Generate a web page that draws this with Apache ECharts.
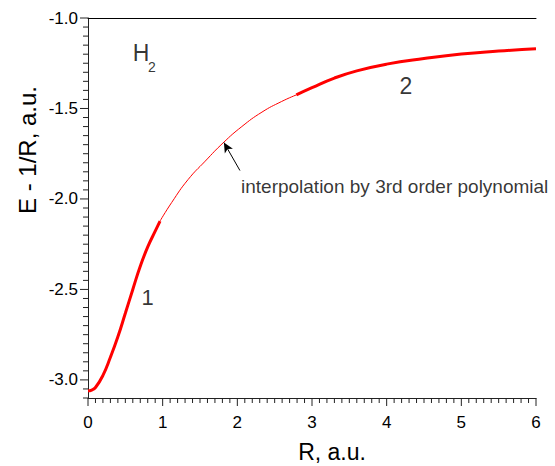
<!DOCTYPE html>
<html>
<head>
<meta charset="utf-8">
<script src="https://cdn.jsdelivr.net/npm/echarts@6/dist/echarts.min.js"></script>
<style>html,body{margin:0;padding:0;background:#fff}#c{width:555px;height:466px}</style>
</head>
<body>
<div id="c"></div>
<script>
// Segment 1 (thick): small-R expansion
const seg1X = [0, 0.05, 0.1, 0.2, 0.3, 0.4, 0.5, 0.6, 0.7, 0.8, 0.9, 0.965];
const seg1Y = [-3.060, -3.056, -3.042, -2.975, -2.875, -2.762, -2.632, -2.500, -2.372, -2.265, -2.178, -2.122];
// Interpolation (thin)
const midX = [0.965, 1.12, 1.34, 1.57, 1.81, 2.06, 2.33, 2.59, 2.79];
const midY = [-2.122, -2.020, -1.893, -1.791, -1.690, -1.600, -1.520, -1.462, -1.425];
// Segment 2 (thick): large-R expansion
const seg2X = [2.79, 3.0, 3.3, 3.6, 4.0, 4.5, 5.0, 5.5, 6.0];
const seg2Y = [-1.425, -1.385, -1.332, -1.292, -1.255, -1.224, -1.199, -1.183, -1.170];

const xTicks = [0, 1, 2, 3, 4, 5, 6];
const yTicks = [-3.0, -2.5, -2.0, -1.5, -1.0];
const yRange = [-3.1, -1.0];
const xMinorStep = 0.1;
const yMinorStep = 0.05;

const xName = 'R, a.u.';
const yName = 'E - 1/R, a.u.';
const annText = 'interpolation by 3rd order polynomial';
// annotation anchors in data coordinates
const annAnchor = [2.049, -1.931];
const arrowFrom = [2.035, -1.843];
const arrowTo = [1.82, -1.688];
const labelH = [0.710, -1.196];
const labelHsub = [0.857, -1.270];
const label1 = [0.797, -2.542];
const label2 = [4.259, -1.378];

const zip = (a, b) => a.map((v, i) => [v, b[i]]);

// tick positions (axis furniture)
const xAllTicks = [];
for (let i = 0; i <= Math.round((xTicks[xTicks.length - 1] - xTicks[0]) / xMinorStep); i++) {
  xAllTicks.push(+(xTicks[0] + i * xMinorStep).toFixed(3));
}
const yAllTicks = [];
for (let i = 0; i <= Math.round((yRange[1] - yRange[0]) / yMinorStep); i++) {
  yAllTicks.push(+(yRange[0] + i * yMinorStep).toFixed(3));
}
const tickItems = xAllTicks.map(v => [v, yRange[0], 0, xTicks.indexOf(v) >= 0 ? 8 : 5])
  .concat(yAllTicks.map(v => [xTicks[0], v, 1, yTicks.indexOf(v) >= 0 ? 8 : 5]));

const chart = echarts.init(document.getElementById('c'), null, { renderer: 'svg' });
const font = 'Liberation Sans, Arial, sans-serif';

function textPoint(pos, text, size, align) {
  return {
    value: pos,
    label: {
      show: true, formatter: text, position: [0, 0],
      align: align || 'center', verticalAlign: 'middle',
      fontSize: size, color: '#000', fontFamily: font
    }
  };
}

chart.setOption({
  animation: false,
  grid: { left: 88, right: 19, top: 18, bottom: 68 },
  xAxis: [
    {
      type: 'value', min: xTicks[0], max: xTicks[xTicks.length - 1], interval: 1,
      axisLine: { show: true, lineStyle: { color: '#222', width: 1 } },
      axisTick: { show: false },
      axisLabel: { show: true, customValues: xTicks, fontSize: 17, color: '#000', margin: 16, fontFamily: font },
      splitLine: { show: false }
    },
    {
      type: 'value', min: xTicks[0], max: xTicks[xTicks.length - 1], position: 'top',
      axisLine: { show: true, lineStyle: { color: '#000', width: 1 } },
      axisTick: { show: false }, axisLabel: { show: false }, splitLine: { show: false }
    }
  ],
  yAxis: [
    {
      type: 'value', min: yRange[0], max: yRange[1],
      axisLine: { show: true, onZero: false, lineStyle: { color: '#222', width: 1 } },
      axisTick: { show: false },
      axisLabel: { show: true, customValues: yTicks, formatter: v => v.toFixed(1), fontSize: 17, color: '#000', margin: 10, fontFamily: font },
      splitLine: { show: false }
    }
  ],
  graphic: [
    { type: 'text', x: 332, y: 452, style: { text: xName, fill: '#000', font: '23px ' + font, textAlign: 'center', textVerticalAlign: 'middle' } },
    { type: 'text', x: 27, y: 150, rotation: Math.PI / 2, style: { text: yName, fill: '#000', font: '24px ' + font, textAlign: 'center', textVerticalAlign: 'middle' } }
  ],
  series: [
    { type: 'line', data: zip(seg1X, seg1Y), smooth: true, symbol: 'none', lineStyle: { color: '#ff0000', width: 3 }, z: 3 },
    {
      type: 'line', data: zip(midX, midY), smooth: true, symbol: 'none', lineStyle: { color: '#ff0000', width: 1 }, z: 2,
      markLine: {
        silent: true, symbol: ['none', 'arrow'], symbolSize: [7, 10],
        label: { show: false },
        lineStyle: { color: '#000', width: 1, type: 'solid' },
        data: [[{ coord: arrowFrom }, { coord: arrowTo }]]
      }
    },
    { type: 'line', data: zip(seg2X, seg2Y), smooth: true, symbol: 'none', lineStyle: { color: '#ff0000', width: 3 }, z: 3 },
    {
      type: 'custom', silent: true, clip: false, z: 4,
      data: tickItems,
      renderItem: function (params, api) {
        const p = api.coord([api.value(0), api.value(1)]);
        const kind = api.value(2);
        const len = api.value(3);
        const shape = kind === 0
          ? { x1: p[0], y1: p[1], x2: p[0], y2: p[1] + len }
          : { x1: p[0] - len, y1: p[1], x2: p[0], y2: p[1] };
        return { type: 'line', shape: shape, style: { stroke: '#222', lineWidth: 1 } };
      }
    },
    {
      type: 'scatter', symbolSize: 0, silent: true, z: 5,
      data: [
        textPoint(labelH, 'H', 23),
        textPoint(labelHsub, '2', 14),
        textPoint(label1, '1', 22),
        textPoint(label2, '2', 23),
        textPoint(annAnchor, annText, 19, 'left')
      ]
    }
  ]
});
</script>
</body>
</html>
